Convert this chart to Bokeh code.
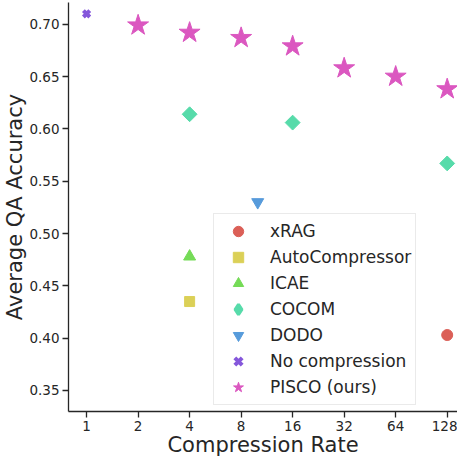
import numpy as np
from bokeh.plotting import figure
from bokeh.models import (Range1d, FixedTicker, Legend, LegendItem,
                          NumeralTickFormatter, BasicTickFormatter, ColumnDataSource)
from bokeh.embed import file_html
from bokeh.resources import INLINE

# ---- data ----
x_ticks = [1, 2, 4, 8, 16, 32, 64, 128]
y_ticks = [0.35, 0.40, 0.45, 0.50, 0.55, 0.60, 0.65, 0.70]

xrag_x = [128]
xrag_y = [0.403]
autocomp_x = [4]
autocomp_y = [0.435]
icae_x = [4]
icae_y = [0.478]
cocom_x = [4, 16, 128]
cocom_y = [0.614, 0.606, 0.567]
dodo_x = [10]
dodo_y = [0.530]
nocomp_x = [1]
nocomp_y = [0.710]
pisco_x = [2, 4, 8, 16, 32, 64, 128]
pisco_y = [0.699, 0.692, 0.687, 0.679, 0.658, 0.650, 0.638]

colors = ["#db5f57", "#dbd057", "#75db57", "#57dbaa", "#579bdb", "#8557db", "#db57c0"]
TXT = "#262626"
FONT = "DejaVu Sans"

p = figure(width=457, height=459, x_axis_type="log",
           x_range=Range1d(2 ** -0.351, 2 ** 7.2),
           y_range=Range1d(0.3299, 0.7208),
           output_backend="svg", toolbar_location=None,
           min_border_left=67, min_border_right=0, min_border_top=2,
           min_border_bottom=44)
p.outline_line_color = None
p.xgrid.visible = False
p.ygrid.visible = False
p.background_fill_color = "white"

r_xrag = p.scatter(xrag_x, xrag_y, marker="circle", size=11, color=colors[0])
r_auto = p.scatter(autocomp_x, autocomp_y, marker="square", size=10, color=colors[1])
r_icae = p.scatter(icae_x, icae_y, marker="triangle", size=12, color=colors[2])
r_cocom = p.scatter(cocom_x, cocom_y, marker="square", size=10.5, angle=np.pi / 4, color=colors[3])
r_dodo = p.scatter(dodo_x, dodo_y, marker="inverted_triangle", size=12, color=colors[4])
r_nocomp = p.scatter(nocomp_x, nocomp_y, marker="x", size=9, line_width=4, color=colors[5])
r_pisco = p.scatter(pisco_x, pisco_y, marker="star", size=22, color=colors[6])

# legend-only proxy for the diamond shape (not drawn in the plot: NaN position)
proxy = ColumnDataSource(data=dict(x=np.array([np.nan]), y=np.array([np.nan])))
r_cocom_leg = p.scatter("x", "y", source=proxy, marker="diamond", size=10,
                        color=colors[3], line_width=3)

for ax in (p.xaxis[0], p.yaxis[0]):
    ax.axis_line_color = TXT
    ax.axis_line_width = 1.3
    ax.major_tick_line_color = TXT
    ax.major_tick_line_width = 1.3
    ax.major_tick_in = 0
    ax.major_tick_out = 6
    ax.minor_tick_line_color = None
    ax.major_label_text_font = FONT
    ax.major_label_text_font_size = "13.5px"
    ax.major_label_text_color = TXT
    ax.axis_label_text_font = FONT
    ax.axis_label_text_font_size = "21px"
    ax.axis_label_text_font_style = "normal"
    ax.axis_label_text_color = TXT
    ax.major_label_standoff = 3
    ax.axis_label_standoff = -1

p.xaxis.ticker = FixedTicker(ticks=x_ticks)
p.xaxis.formatter = BasicTickFormatter()
p.yaxis.ticker = FixedTicker(ticks=y_ticks)
p.yaxis.formatter = NumeralTickFormatter(format="0.00")
p.xaxis.axis_label = "Compression Rate"
p.yaxis.axis_label = "Average QA Accuracy"

legend = Legend(items=[
    LegendItem(label="xRAG", renderers=[r_xrag]),
    LegendItem(label="AutoCompressor", renderers=[r_auto]),
    LegendItem(label="ICAE", renderers=[r_icae]),
    LegendItem(label="COCOM", renderers=[r_cocom_leg]),
    LegendItem(label="DODO", renderers=[r_dodo]),
    LegendItem(label="No compression", renderers=[r_nocomp]),
    LegendItem(label="PISCO (ours)", renderers=[r_pisco]),
], location=(145, 6))
legend.label_text_font = FONT
legend.label_text_font_size = "17px"
legend.label_text_color = TXT
legend.padding = 4
legend.glyph_width = 40
legend.glyph_height = 26
legend.label_height = 26
legend.label_standoff = 12
legend.spacing = -1
legend.margin = 0
legend.border_line_color = "#d6d6d6"
legend.border_line_width = 1
legend.background_fill_alpha = 0.85
p.add_layout(legend, "center")

open("out.html", "w").write(file_html(p, INLINE))
